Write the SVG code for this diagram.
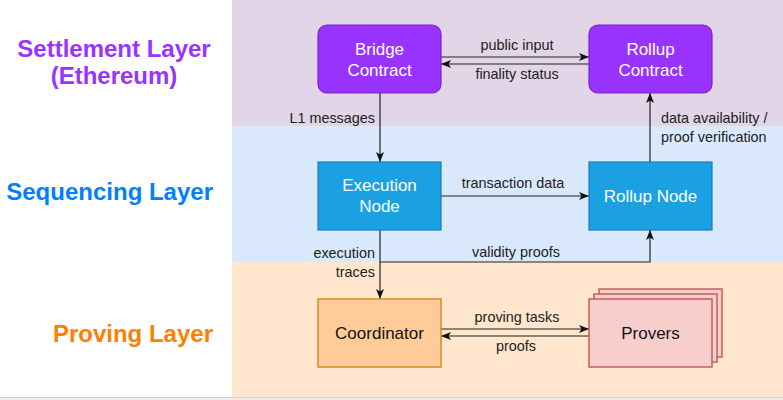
<svg xmlns="http://www.w3.org/2000/svg" width="783" height="400" viewBox="0 0 783 400">
<defs>
<marker id="arr" viewBox="0 0 10 8" refX="10" refY="4" markerWidth="10" markerHeight="8" markerUnits="userSpaceOnUse" orient="auto">
<path d="M0,0 L10,4 L0,8 L2.5,4 Z" fill="#111"/>
</marker>
<style>
.layer{font-family:"Liberation Sans",Arial,sans-serif;font-weight:bold;font-size:24px}
.node{font-family:"Liberation Sans",Arial,sans-serif;font-size:17px;text-anchor:middle}
.lbl{font-family:"Liberation Sans",Arial,sans-serif;font-size:14.4px;fill:#222}
.edge{fill:none;stroke:#222;stroke-width:1.2;marker-end:url(#arr)}
.purple{fill:#9933FF;stroke:#7A22CC;stroke-width:1.2}
.blue{fill:#1BA1E2;stroke:#1A7CC0;stroke-width:1.2}
.orange{fill:#FFCC99;stroke:#D98A26;stroke-width:1.5}
.pink{fill:#F8CECC;stroke:#C0605C;stroke-width:1.5}
</style>
</defs>
<rect x="0" y="0" width="783" height="400" fill="#ffffff"/>
<g id="bands">
<rect x="232" y="0" width="551" height="126" fill="#E1D5E7"/>
<rect x="232" y="126" width="551" height="136" fill="#DAE8FC"/>
<rect x="232" y="262" width="551" height="135" fill="#FFE6CC"/>
<rect x="0" y="397" width="783" height="3" fill="#EEEEEE"/>
<line x1="0" y1="397.5" x2="783" y2="397.5" stroke="#D0D0D0" stroke-width="1"/>
</g>
<g id="layer-labels">
<text class="layer" x="114" y="57" text-anchor="middle" fill="#9933FF">Settlement Layer</text>
<text class="layer" x="114" y="84" text-anchor="middle" fill="#9933FF">(Ethereum)</text>
<text class="layer" x="213" y="200" text-anchor="end" fill="#007FFF">Sequencing Layer</text>
<text class="layer" x="213" y="342" text-anchor="end" fill="#FF8000">Proving Layer</text>
</g>
<g id="connectors">
<path class="edge" d="M441,57 H589"/>
<path class="edge" d="M589,64 H441"/>
<path class="edge" d="M380,93 V162"/>
<path class="edge" d="M650,162 V93"/>
<path class="edge" d="M441,196 H589"/>
<path class="edge" d="M380,230 V299"/>
<path class="edge" d="M380,262 H650 V230"/>
<path class="edge" d="M441,329 H589"/>
<path class="edge" d="M589,336 H441"/>
<text class="lbl" x="517" y="50" text-anchor="middle">public input</text>
<text class="lbl" x="517" y="79" text-anchor="middle">finality status</text>
<text class="lbl" x="375" y="123" text-anchor="end">L1 messages</text>
<text class="lbl" x="661" y="123">data availability /</text>
<text class="lbl" x="661" y="142">proof verification</text>
<text class="lbl" x="513" y="188" text-anchor="middle">transaction data</text>
<text class="lbl" x="516" y="257" text-anchor="middle">validity proofs</text>
<text class="lbl" x="375" y="258" text-anchor="end">execution</text>
<text class="lbl" x="375" y="277" text-anchor="end">traces</text>
<text class="lbl" x="517" y="322" text-anchor="middle">proving tasks</text>
<text class="lbl" x="516" y="351" text-anchor="middle">proofs</text>
</g>
<g id="bridge-contract">
<rect class="purple" x="318" y="25" width="123" height="68" rx="9"/>
<text class="node" x="379.5" y="55" fill="#fff">Bridge</text>
<text class="node" x="379.5" y="76" fill="#fff">Contract</text>
</g>
<g id="rollup-contract">
<rect class="purple" x="589" y="25" width="123" height="68" rx="9"/>
<text class="node" x="650.5" y="55" fill="#fff">Rollup</text>
<text class="node" x="650.5" y="76" fill="#fff">Contract</text>
</g>
<g id="execution-node">
<rect class="blue" x="318" y="162" width="123" height="68"/>
<text class="node" x="379.5" y="191" fill="#fff">Execution</text>
<text class="node" x="379.5" y="212" fill="#fff">Node</text>
</g>
<g id="rollup-node">
<rect class="blue" x="589" y="162" width="123" height="68"/>
<text class="node" x="650.5" y="202" fill="#fff">Rollup Node</text>
</g>
<g id="coordinator">
<rect class="orange" x="318" y="299" width="123" height="68"/>
<text class="node" x="379.5" y="339" fill="#111">Coordinator</text>
</g>
<g id="provers">
<rect class="pink" x="599" y="289" width="123" height="68"/>
<rect class="pink" x="594" y="294" width="123" height="68"/>
<rect class="pink" x="589" y="299" width="123" height="68"/>
<text class="node" x="650.5" y="339" fill="#111">Provers</text>
</g>
</svg>
